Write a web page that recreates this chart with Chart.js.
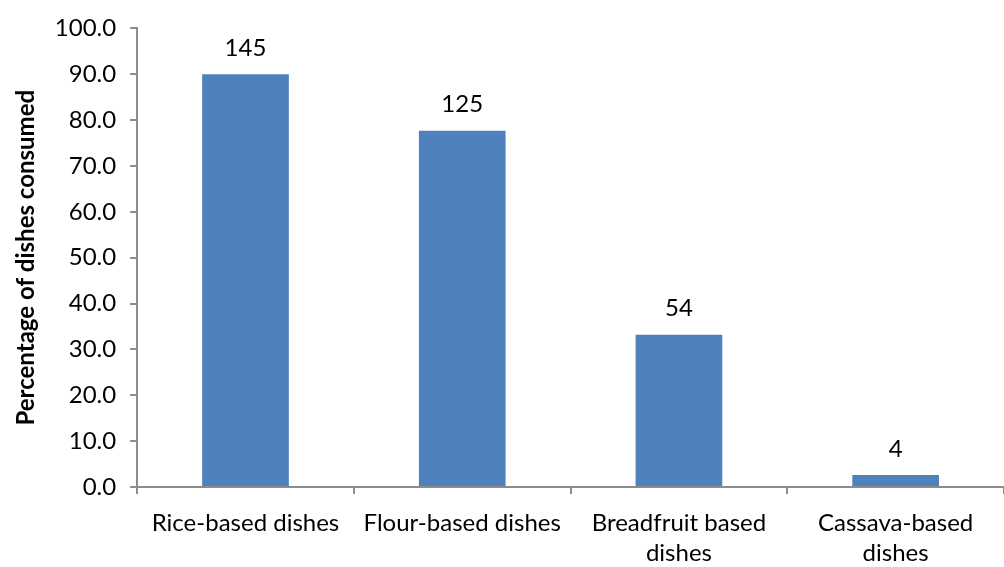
<!DOCTYPE html>
<html>
<head>
<meta charset="utf-8">
<script src="https://cdn.jsdelivr.net/npm/chart.js@4/dist/chart.umd.min.js"></script>
<style>
  html, body { margin: 0; padding: 0; background: #fff; }
  #wrap { width: 1004px; height: 567px; }
</style>
</head>
<body>
<div id="wrap"><canvas id="myChart" width="1004" height="567"></canvas></div>
<script>
var categories = ["Rice-based dishes", "Flour-based dishes", ["Breadfruit based", "dishes"], ["Cassava-based", "dishes"]];
var percentages = [90.0, 77.7, 33.2, 2.6];
var counts = [145, 125, 54, 4];
var yTicks = { min: 0, max: 100, step: 10 };

var axisGrey = '#8c8c8c';
var font = "Lato, 'Open Sans', sans-serif";

// writes the number of dishes above each bar
var countLabels = {
    id: 'countLabels',
    afterDatasetsDraw: function (chart) {
        var ctx = chart.ctx;
        var meta = chart.getDatasetMeta(0);
        ctx.save();
        ctx.fillStyle = '#000';
        ctx.font = '24px ' + font;
        ctx.textAlign = 'center';
        ctx.textBaseline = 'bottom';
        meta.data.forEach(function (bar, i) {
            ctx.fillText(counts[i], bar.x, bar.y - 14);
        });
        ctx.restore();
    }
};

var ctx = document.getElementById("myChart");
var myChart = new Chart(ctx, {
    type: 'bar',
    data: {
        labels: categories,
        datasets: [{
            data: percentages,
            backgroundColor: '#4f81bd',
            borderWidth: 0,
            barPercentage: 0.4,
            categoryPercentage: 1.0
        }]
    },
    options: {
        responsive: false,
        animation: false,
        layout: { padding: { top: 9, right: 0, left: 12, bottom: -15 } },
        plugins: {
            legend: { display: false },
            tooltip: { enabled: false }
        },
        scales: {
            x: {
                grid: { drawOnChartArea: false, color: axisGrey, tickLength: 7, lineWidth: 2 },
                border: { color: axisGrey, width: 2 },
                ticks: { color: '#000', font: { family: font, size: 24, lineHeight: 1.25 }, padding: 14, maxRotation: 0, autoSkip: false }
            },
            y: {
                min: yTicks.min,
                max: yTicks.max,
                grid: { drawOnChartArea: false, color: axisGrey, tickLength: 7, lineWidth: 2 },
                border: { color: axisGrey, width: 2 },
                ticks: {
                    stepSize: yTicks.step,
                    color: '#000',
                    font: { family: font, size: 24 },
                    padding: 14,
                    callback: function (v) { return v.toFixed(1); }
                },
                title: {
                    display: true,
                    text: 'Percentage of dishes consumed',
                    color: '#000',
                    font: { family: font, size: 24, weight: 'bold' },
                    padding: { top: 0, bottom: 0 }
                }
            }
        }
    },
    plugins: [countLabels]
});
</script>
</body>
</html>
